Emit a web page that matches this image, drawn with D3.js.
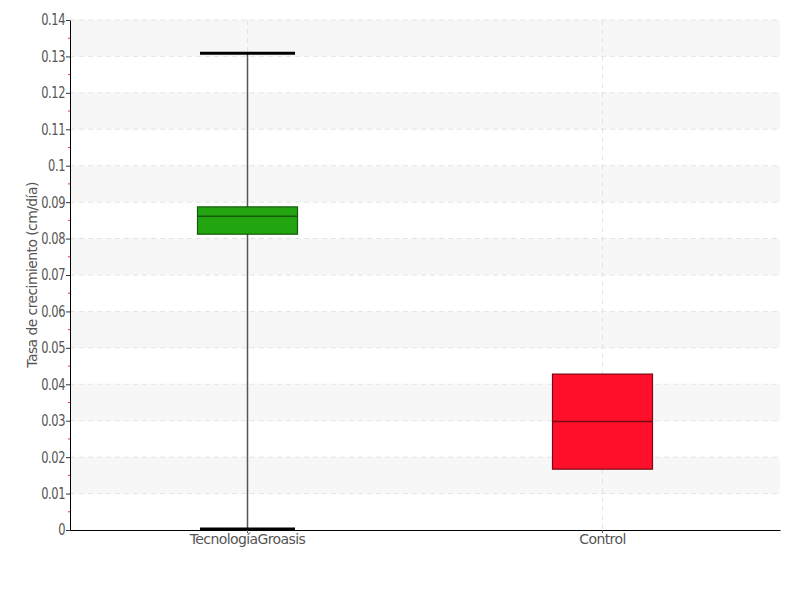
<!DOCTYPE html>
<html><head><meta charset="utf-8">
<script src="https://cdnjs.cloudflare.com/ajax/libs/d3/7.8.5/d3.min.js"></script>
<style>
body{margin:0;background:#fff;}
text{font-family:"DejaVu Sans",sans-serif;letter-spacing:-0.6px;}
</style></head><body>
<svg id="c" width="800" height="600"></svg>
<script>
const categories = ["TecnologíaGroasis", "Control"];
const whiskerLow = [0.0003, null];
const q1 = [0.0812, 0.0167];
const median = [0.0861, 0.0298];
const q3 = [0.0887, 0.0428];
const whiskerHigh = [0.1309, null];
const colors = ["#22a511", "#ff0f2a"];
const strokes = ["#145a0c", "#7a0a14"];
const yTicks = [0,0.01,0.02,0.03,0.04,0.05,0.06,0.07,0.08,0.09,0.1,0.11,0.12,0.13,0.14];
const yTickLabels = ["0","0.01","0.02","0.03","0.04","0.05","0.06","0.07","0.08","0.09","0.1","0.11","0.12","0.13","0.14"];
const yLabel = "Tasa de crecimiento (cm/día)";

const svg = d3.select("#c");
const m = {l:70, r:20, t:20, b:70};
const W = 800, H = 600;
const x = d3.scaleBand().domain(categories).range([m.l, W-m.r]);
const y = d3.scaleLinear().domain([0,0.14]).range([H-m.b, m.t]);

// alternating bands
const bands = yTicks.slice(0,-1).map((v,i)=>[v, yTicks[i+1], i]).filter(d=>d[2]%2===1);
svg.append("g").selectAll("rect").data(bands).join("rect")
  .attr("x", m.l).attr("width", W-m.r-m.l)
  .attr("y", d=>y(d[1])).attr("height", d=>y(d[0])-y(d[1]))
  .attr("fill", "#f7f7f7");

// horizontal grid
svg.append("g").selectAll("line").data(yTicks.slice(1)).join("line")
  .attr("x1", m.l).attr("x2", W-m.r)
  .attr("y1", d=>y(d)).attr("y2", d=>y(d))
  .attr("stroke", "#e4e4e4").attr("stroke-dasharray","5,4");
// vertical grid
svg.append("g").selectAll("line").data(categories).join("line")
  .attr("x1", d=>x(d)+x.bandwidth()/2).attr("x2", d=>x(d)+x.bandwidth()/2)
  .attr("y1", m.t).attr("y2", H-m.b)
  .attr("stroke", "#e4e4e4").attr("stroke-dasharray","5,4");

// boxes
const data = categories.map((c,i)=>({c, lo:whiskerLow[i], q1:q1[i], med:median[i], q3:q3[i], hi:whiskerHigh[i], col:colors[i], st:strokes[i]}));
const g = svg.append("g");
const bw = 100, cw = 95;
data.forEach(d=>{
  const cx = x(d.c)+x.bandwidth()/2;
  if (d.lo!==null && d.hi!==null) {
    g.append("line").attr("x1",cx).attr("x2",cx).attr("y1",y(d.hi)).attr("y2",y(d.lo))
      .attr("stroke","#555").attr("stroke-width",1.5);
    [d.lo,d.hi].forEach(v=>g.append("line").attr("x1",cx-cw/2).attr("x2",cx+cw/2)
      .attr("y1",y(v)).attr("y2",y(v)).attr("stroke","#000").attr("stroke-width",3));
  }
  g.append("rect").attr("x",cx-bw/2).attr("width",bw)
    .attr("y",y(d.q3)).attr("height",y(d.q1)-y(d.q3))
    .attr("fill",d.col).attr("stroke",d.st).attr("stroke-width",1.2);
  g.append("line").attr("x1",cx-bw/2).attr("x2",cx+bw/2)
    .attr("y1",y(d.med)).attr("y2",y(d.med)).attr("stroke",d.st).attr("stroke-width",1.5);
});

// minor ticks (red)
const minor = yTicks.slice(0,-1).map((v,i)=>(v+yTicks[i+1])/2);
svg.append("g").selectAll("line").data(minor).join("line")
  .attr("x1", m.l-2).attr("x2", m.l)
  .attr("y1", d=>y(d)).attr("y2", d=>y(d))
  .attr("stroke","#f03030").attr("stroke-width",1);

// y axis
const sx = 0.74;
const yAxis = svg.append("g").attr("transform",`translate(${m.l},0)`)
  .call(d3.axisLeft(y).tickValues(yTicks).tickFormat((d,i)=>yTickLabels[i]).tickSize(4).tickSizeOuter(0));
yAxis.select(".domain").attr("stroke","#000");
yAxis.selectAll(".tick line").attr("stroke","#333");
yAxis.selectAll("text").attr("fill","#555").attr("font-size",15.5)
  .attr("x",-5/sx).attr("transform",`scale(${sx},1)`);

// x axis
const xAxis = svg.append("g").attr("transform",`translate(0,${H-m.b})`)
  .call(d3.axisBottom(x).tickSize(3).tickSizeOuter(0));
xAxis.select(".domain").attr("stroke","#000");
xAxis.selectAll(".tick line").attr("stroke","#555");
xAxis.selectAll("text").attr("fill","#555").attr("font-size",14).attr("dy","0.55em");

// y label
svg.append("text").attr("transform",`translate(37,${(m.t+H-m.b)/2}) rotate(-90)`)
  .attr("text-anchor","middle").attr("fill","#555").attr("font-size",14).text(yLabel);
</script></body></html>
